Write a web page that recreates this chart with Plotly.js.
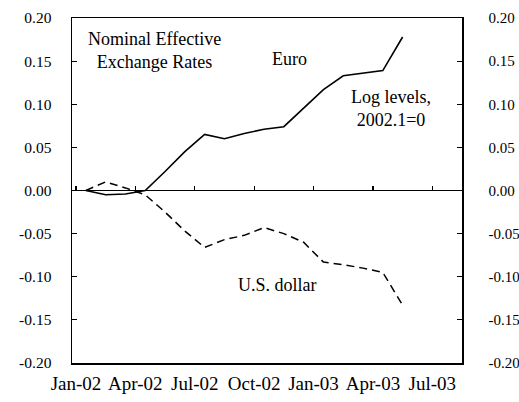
<!DOCTYPE html>
<html>
<head>
<meta charset="utf-8">
<script src="https://cdn.plot.ly/plotly-3.0.1.min.js"></script>
<style>html,body{margin:0;padding:0;background:#fff;}#chart{width:519px;height:402px;}</style>
</head>
<body>
<div id="chart"></div>
<script>
// Monthly observations, Jan-02 .. May-03 (log levels, 2002.1 = 0)
const months = ['Jan-02','Feb-02','Mar-02','Apr-02','May-02','Jun-02','Jul-02','Aug-02','Sep-02','Oct-02','Nov-02','Dec-02','Jan-03','Feb-03','Mar-03','Apr-03','May-03'];
const euro   = [0, -0.005, -0.004, 0, 0.022, 0.045, 0.065, 0.060, 0.066, 0.071, 0.074, 0.096, 0.117, 0.133, 0.136, 0.139, 0.178];
const dollar = [0, 0.010, 0.003, -0.005, -0.025, -0.047, -0.066, -0.057, -0.052, -0.043, -0.050, -0.060, -0.083, -0.086, -0.090, -0.095, -0.133];

const xTickLabels = ['Jan-02','Apr-02','Jul-02','Oct-02','Jan-03','Apr-03','Jul-03'];
const yTickVals  = [-0.20,-0.15,-0.10,-0.05,0,0.05,0.10,0.15,0.20];
const yTickText  = ['-0.20','-0.15','-0.10','-0.05','0.00','0.05','0.10','0.15','0.20'];

const xIdx = months.map((_, i) => i);
// tick marks sit between months, every quarter
const xTickVals = xTickLabels.map((_, i) => i * 3 - 0.5);

const FONT = 'Liberation Serif, Times New Roman, serif';

const traces = [
  {x: xIdx, y: euro, type: 'scatter', mode: 'lines', name: 'Euro',
   line: {color: '#000', width: 1.6}},
  {x: xIdx, y: dollar, type: 'scatter', mode: 'lines', name: 'U.S. dollar',
   line: {color: '#000', width: 1.5, dash: '8px,5px'}},
  // invisible trace to activate the right-hand axis and zero-line tick axis
  {x: [xIdx[0]], y: [0], xaxis: 'x2', yaxis: 'y2', type: 'scatter', mode: 'markers',
   marker: {opacity: 0}, hoverinfo: 'skip', showlegend: false}
];

const xr = [-0.7, 19.0];
const yr = [-0.2, 0.2];

const layout = {
  width: 519, height: 402,
  margin: {l: 72, r: 57, t: 18, b: 39},
  paper_bgcolor: '#fff', plot_bgcolor: '#fff',
  showlegend: false,
  font: {family: FONT, color: '#000', size: 15},
  xaxis: {
    range: xr, tickmode: 'array', tickvals: xTickVals, ticktext: xTickLabels,
    ticks: '', showgrid: false, zeroline: false,
    showline: true, linecolor: '#000', linewidth: 1.5, mirror: true,
    ticklabelstandoff: 3,
    tickfont: {family: FONT, size: 19, color: '#000'}
  },
  xaxis2: {
    range: xr, overlaying: 'x', anchor: 'free', position: 0.5,
    tickmode: 'array', tickvals: xTickVals, ticks: 'inside', ticklen: 5,
    tickcolor: '#000', tickwidth: 1.2, showticklabels: false,
    showgrid: false, zeroline: false, showline: false
  },
  yaxis: {
    range: yr, tickmode: 'array', tickvals: yTickVals, ticktext: yTickText,
    ticks: 'inside', ticklen: 5, tickcolor: '#000', tickwidth: 1.2,
    showgrid: false, zeroline: true, zerolinecolor: '#000', zerolinewidth: 1.5,
    showline: true, linecolor: '#000', linewidth: 1.5,
    ticklabelstandoff: 16,
    tickfont: {family: FONT, size: 15.5, color: '#000'}
  },
  yaxis2: {
    range: yr, overlaying: 'y', side: 'right', anchor: 'x',
    tickmode: 'array', tickvals: yTickVals, ticktext: yTickText,
    ticks: 'inside', ticklen: 5, tickcolor: '#000', tickwidth: 1.2,
    showgrid: false, zeroline: false,
    showline: true, linecolor: '#000', linewidth: 1.5,
    ticklabelstandoff: 22,
    tickfont: {family: FONT, size: 15, color: '#000'}
  },
  annotations: [
    {text: 'Nominal Effective<br>Exchange Rates', x: 3.47, y: 0.1625, xref: 'x', yref: 'y', xanchor: 'center', yanchor: 'middle', align: 'center', showarrow: false, font: {family: FONT, size: 18, color: '#000'}},
    {text: 'Euro', x: 10.3, y: 0.153, xref: 'x', yref: 'y', xanchor: 'center', yanchor: 'middle', showarrow: false, font: {family: FONT, size: 18, color: '#000'}},
    {text: 'Log levels,<br>2002.1=0', x: 15.4, y: 0.0955, xref: 'x', yref: 'y', xanchor: 'center', yanchor: 'middle', align: 'center', showarrow: false, font: {family: FONT, size: 18, color: '#000'}},
    {text: 'U.S. dollar', x: 9.7, y: -0.1096, xref: 'x', yref: 'y', xanchor: 'center', yanchor: 'middle', showarrow: false, font: {family: FONT, size: 18, color: '#000'}}
  ]
};

Plotly.newPlot('chart', traces, layout, {displayModeBar: false, staticPlot: true});
</script>
</body>
</html>
